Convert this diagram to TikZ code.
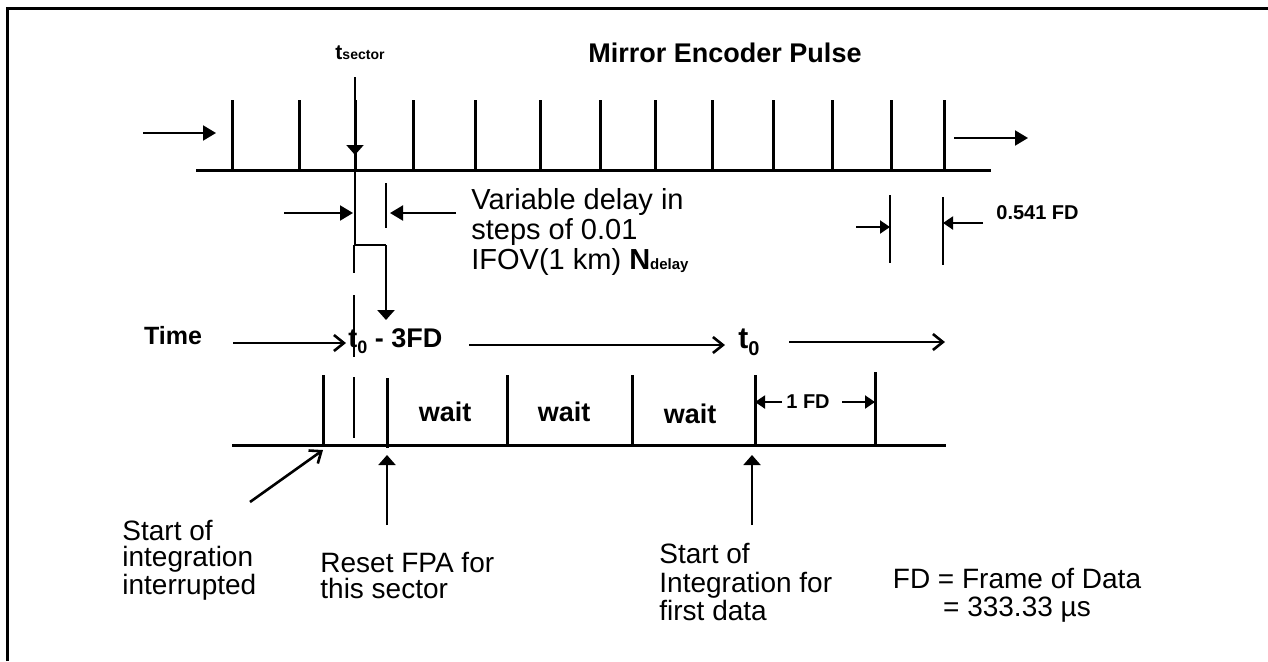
\documentclass[tikz,border=0pt]{standalone}
\usepackage{fontspec}
\setmainfont{Liberation Sans}
\usetikzlibrary{arrows.meta}

\newcommand\subtxt[2]{\raisebox{-0.45ex}{\fontsize{#1}{#1}\selectfont #2}}
\newcommand\smalltxt[2]{{\fontsize{#1}{#1}\selectfont #2}}

\tikzset{
    heavy/.style={line width=1.5pt},
    shaft/.style={line width=1pt},
    hair/.style={line width=0.6pt},
    pointer/.style={shaft, -{Triangle[length=6.5pt,width=7.5pt]}},
    flatpointer/.style={shaft, -{Triangle[length=5pt,width=8.5pt]}},
    smallpointer/.style={shaft, -{Triangle[length=5pt,width=6.5pt]}},
    barb/.style={line width=1.3pt, -{Straight Barb[length=5pt,width=8pt]}},
    boldlabel/.style={font=\fontsize{13.5}{14}\selectfont\bfseries, inner sep=1pt},
    smalllabel/.style={font=\fontsize{10}{11}\selectfont\bfseries, inner sep=1pt},
    note/.style={font=\fontsize{14}{#1}\selectfont, align=left, inner sep=0pt},
    note/.default=13pt,
}

\begin{document}
\begin{tikzpicture}[x=0.5pt, y=-0.5pt]
    \useasboundingbox (0,0) rectangle (1268,661);
    \draw[heavy] (7,661) -- (7,8) -- (1268,8);

    % mirror encoder pulses
    \node[boldlabel] (title) at (725,53) {Mirror Encoder Pulse};
    \node[font=\fontsize{10.5}{11}\selectfont\bfseries, inner sep=1pt] (tsec) at (360,53) {t\smalltxt{7}{sector}};
    \path (196,170) coordinate (topA) (991,170) coordinate (topB)
          (143,133) coordinate (inA) (216,133) coordinate (inB)
          (954,138) coordinate (outA) (1028,138) coordinate (outB);
    \draw[heavy] (topA) -- (topB);
    \foreach \x in {232,299,355,413,475,540,600,655,712,773,832,891,944}
        \draw[heavy] (\x,100) -- (\x,170);
    \draw[pointer] (inA) -- (inB);
    \draw[pointer] (outA) -- (outB);

    % sector start and delay
    \path (355,77) coordinate (secA) (355,155) coordinate (secB) (355,245) coordinate (secC)
          (386,245) coordinate (dlyA) (386,320) coordinate (dlyB);
    \draw[flatpointer] (secA) -- (secB);
    \draw[line width=1.3pt] (secB) -- (secC) -- (dlyA);
    \draw[flatpointer, line width=1.3pt] (dlyA) -- (dlyB);
    \draw[shaft] (354,245) -- (354,273) (354,295) -- (354,357);

    \path (284,213) coordinate (dlA) (353,213) coordinate (dlB)
          (456,213) coordinate (drA) (390,213) coordinate (drB);
    \draw[hair] (386,183) -- (386,228);
    \draw[pointer] (dlA) -- (dlB);
    \draw[pointer] (drA) -- (drB);
    \node[note=15pt, font=\fontsize{14.5}{15}\selectfont, anchor=north west] (delay) at (471,188)
        {Variable delay in\\steps of 0.01\\IFOV(1 km) \textbf{N}\smalltxt{7.5}{\bfseries delay}};

    \draw[hair] (890,195) -- (890,263) (943,197) -- (943,265);
    \path (856,227) coordinate (fdlA) (890,227) coordinate (fdlB)
          (983,223) coordinate (fdrA) (943,223) coordinate (fdrB);
    \draw[smallpointer] (fdlA) -- (fdlB);
    \draw[smallpointer] (fdrA) -- (fdrB);
    \node[smalllabel, anchor=west] (fdstep) at (994,213) {0.541 FD};

    % time line
    \node[boldlabel, font=\fontsize{12.5}{13}\selectfont\bfseries] (time) at (173,336) {Time};
    \node[boldlabel, anchor=west] (tstart) at (346,341) {t\subtxt{9}{0} - 3FD};
    \node[boldlabel, font=\fontsize{15}{16}\selectfont\bfseries, anchor=west] (tzero) at (736,342) {t\subtxt{10}{0}};
    \path (233,343) coordinate (ax1) (469,345) coordinate (ax2) (725,345) coordinate (ax3)
          (789,342) coordinate (ax4) (945,342) coordinate (ax5);
    \draw[barb] (ax1) -- (ax1 -| tstart.west);
    \draw[barb] (ax2) -- (ax3);
    \draw[barb] (ax4) -- (ax5);

    \draw[heavy] (232,445) -- (946,445);
    \foreach \x/\y in {323/375,507/375,632/375,755/375,875/372}
        \draw[heavy] (\x,\y) -- (\x,445);
    \draw[heavy] (387,378) -- (387,448);
    \draw[shaft] (354,377) -- (354,438);
    \foreach \n/\x/\y in {1/445/412,2/564/412,3/690/414}
        \node[boldlabel] (wait\n) at (\x,\y) {wait};

    \node[smalllabel] (onefd) at (808,402) {1 FD};
    \path (782,402) coordinate (ofA) (755,402) coordinate (ofB)
          (842,402) coordinate (ofC) (875,402) coordinate (ofD);
    \draw[smallpointer] (ofA) -- (ofB);
    \draw[smallpointer] (ofC) -- (ofD);

    % notes
    \path (250,502) coordinate (intA) (323,450) coordinate (intB)
          (387,525) coordinate (rstA) (387,455) coordinate (rstB)
          (752,525) coordinate (firstA) (752,455) coordinate (firstB);
    \draw[barb] (intA) -- (intB);
    \draw[flatpointer] (rstA) -- (rstB);
    \draw[flatpointer] (firstA) -- (firstB);
    \node[note, anchor=north west] (interrupt) at (122,520) {Start of\\integration\\interrupted};
    \node[note, anchor=north west] (reset) at (320,552) {Reset FPA for\\this sector};
    \node[note=14.25pt, anchor=north west] (firstdata) at (659,543) {Start of\\Integration for\\first data};
    \node[note=14pt, align=center, anchor=north] (fdnote) at (1017,568) {FD = Frame of Data\\= 333.33 µs};
\end{tikzpicture}
\end{document}
